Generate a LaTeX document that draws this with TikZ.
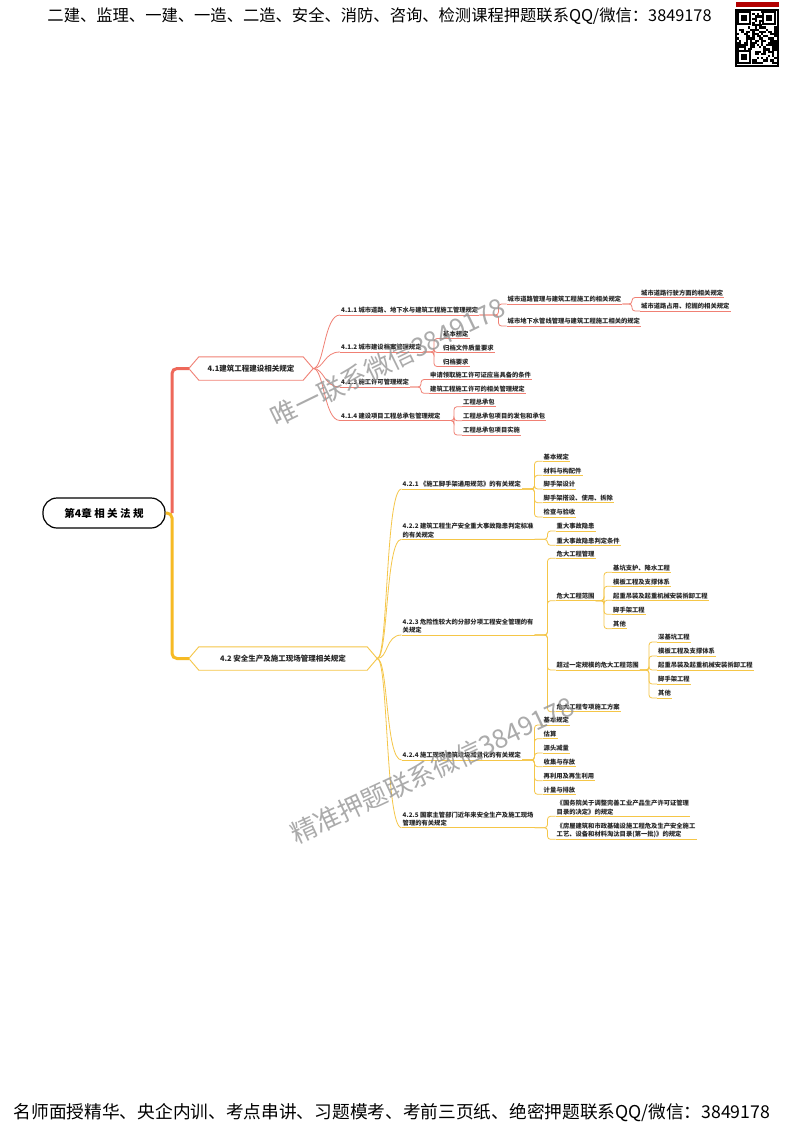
\documentclass[tikz,border=0pt]{standalone}
\usepackage{fontspec}
\newfontfamily\cjk{Noto Sans CJK SC}
\usetikzlibrary{calc}
\definecolor{trR}{RGB}{238,104,90}
\definecolor{trY}{RGB}{246,186,36}
\definecolor{lnR}{RGB}{240,128,116}
\definecolor{lnY}{RGB}{245,198,72}
\definecolor{wmk}{RGB}{150,150,150}
\newcommand\mmul[2]{\draw[#1] (#2.south west) -- (#2.south east);}
\newcommand\mmbrk[3]{\draw[#1,rounded corners=3pt] (#2.south east) -| ([xshift=-8pt]#3.south west) -- (#3.south west);}
\newcommand\mmfan[3]{\draw[#1] (#2.east) .. controls ($(#2.east)+(11,0)$) and ($(#3.south west)+(-16,0)$) .. (#3.south west);}
\newcommand\mmhex[2]{\draw[#1, line width=0.9pt] (#2.west) -- ([xshift=10pt]#2.north west) -- ([xshift=-10pt]#2.north east) -- (#2.east) -- ([xshift=-10pt]#2.south east) -- ([xshift=10pt]#2.south west) -- cycle;}
\begin{document}
\begin{tikzpicture}[x=1pt,y=-1pt,
  tx/.style={anchor=south west, inner xsep=1pt, inner ysep=1.3pt, align=left, text=black!85, font=\cjk\bfseries\fontsize{6.3}{8.5}\selectfont},
  lR/.style={draw=lnR, line width=0.8pt},
  lY/.style={draw=lnY, line width=0.8pt},
  hexn/.style={inner sep=0pt, minimum height=23pt, text=black!85, font=\cjk\bfseries\fontsize{7.5}{9}\selectfont},
]
\useasboundingbox (0,0) rectangle (800,1130);
\fill[white] (0,0) rectangle (800,1130);

% header / footer
\node[font=\cjk\fontsize{16.3}{18}\selectfont, text=black] (hdr) at (379.5,16) {二建、监理、一建、一造、二造、安全、消防、咨询、检测课程押题联系QQ/微信：3849178};
\node[font=\cjk\fontsize{17.7}{20}\selectfont, text=black] (ftr) at (392,1113) {名师面授精华、央企内训、考点串讲、习题模考、考前三页纸、绝密押题联系QQ/微信：3849178};

% QR code
\begin{scope}
\pgfmathsetseed{7}
\fill[red!70!black] (736,2) rectangle (779,7);
\fill[black] (735,9) rectangle (779,67);
\fill[white] (737,11) rectangle (777,65);
\foreach \i in {0,...,17}{\foreach \j in {0,...,23}{
  \pgfmathtruncatemacro\q{rnd<0.5}
  \ifnum\q=1 \fill[black] (737+2.2*\i,11+2.2*\j) rectangle ++(2.2,2.2);\fi}}
\foreach \ox/\oy in {737/11, 761.6/11, 737/49.6}{
  \fill[white] (\ox,\oy) rectangle ++(15.4,15.4);
  \fill[black] (\ox,\oy) rectangle ++(14,14);
  \fill[white] (\ox+2,\oy+2) rectangle ++(10,10);
  \fill[black] (\ox+4,\oy+4) rectangle ++(6,6);}
\end{scope}

% root and main branches
\node[draw=black, line width=1.2pt, rounded corners=14pt, minimum width=122pt, minimum height=30pt, font=\cjk\bfseries\fontsize{10.5}{12}\selectfont] (root) at (104,513) {第4章 相 关 法 规};
\node[hexn, minimum width=124pt] (hexA) at (251,368.5) {4.1建筑工程建设相关规定};
\node[hexn, minimum width=188pt] (hexB) at (283,658.5) {4.2 安全生产及施工现场管理相关规定};
\mmhex{lnR}{hexA}
\mmhex{lnY}{hexB}
\draw[trR, line width=3pt, rounded corners=5pt] (172,513) -- (172,368.5) -- (hexA.west);
\draw[trY, line width=3pt, rounded corners=5pt] (root.east) -- (172,513) -- (172,658.5) -- (hexB.west);

% ---------- 4.1 ----------
\node[tx] (n411) at (340,315) {4.1.1 城市道路、地下水与建筑工程施工管理规定};
\node[tx] (n412) at (340,352) {4.1.2 城市建设档案管理规定};
\node[tx] (n413) at (340,387) {4.1.3 施工许可管理规定};
\node[tx] (n414) at (340,420.5) {4.1.4 建设项目工程总承包管理规定};

\node[tx] (a1) at (506.5,304) {城市道路管理与建筑工程施工的相关规定};
\node[tx] (a2) at (506.5,326) {城市地下水管线管理与建筑工程施工相关的规定};
\node[tx] (a11) at (640,297.5) {城市道路行驶方面的相关规定};
\node[tx] (a12) at (640,311) {城市道路占用、挖掘的相关规定};

\node[tx] (b1) at (442,338.5) {基本规定};
\node[tx] (b2) at (442,352.5) {归档文件质量要求};
\node[tx] (b3) at (442,366.5) {归档要求};

\node[tx] (c1) at (429,379.5) {申请领取施工许可证应当具备的条件};
\node[tx] (c2) at (429,393.3) {建筑工程施工许可的相关管理规定};

\node[tx] (d1) at (462,406.7) {工程总承包};
\node[tx] (d2) at (462,420.7) {工程总承包项目的发包和承包};
\node[tx] (d3) at (462,435) {工程总承包项目实施};

\foreach \n in {n411,n412,n413,n414,a1,a2,a11,a12,b1,b2,b3,c1,c2,d1,d2,d3} {\mmul{lR}{\n}}
\foreach \n in {n411,n412,n413,n414} {\mmfan{lR}{hexA}{\n}}
\foreach \n in {a1,a2} {\mmbrk{lR}{n411}{\n}}
\foreach \n in {a11,a12} {\mmbrk{lR}{a1}{\n}}
\foreach \n in {b1,b2,b3} {\mmbrk{lR}{n412}{\n}}
\foreach \n in {c1,c2} {\mmbrk{lR}{n413}{\n}}
\foreach \n in {d1,d2,d3} {\mmbrk{lR}{n414}{\n}}

% ---------- 4.2 ----------
\node[tx] (m421) at (401.5,489) {4.2.1 《施工脚手架通用规范》的有关规定};
\node[tx] (m422) at (401.5,539.3) {4.2.2 建筑工程生产安全重大事故隐患判定标准\\的有关规定};
\node[tx] (m423) at (401.5,635) {4.2.3 危险性较大的分部分项工程安全管理的有\\关规定};
\node[tx] (m424) at (401.5,760) {4.2.4 施工现场建筑垃圾减量化的有关规定};
\node[tx] (m425) at (401.5,827.7) {4.2.5 国家主管部门近年来安全生产及施工现场\\管理的有关规定};

\node[tx] (e1) at (542.5,461.3) {基本规定};
\node[tx] (e2) at (542.5,475.3) {材料与构配件};
\node[tx] (e3) at (542.5,489) {脚手架设计};
\node[tx] (e4) at (542.5,502.7) {脚手架搭设、使用、拆除};
\node[tx] (e5) at (542.5,517) {检查与验收};

\node[tx] (f1) at (555.5,531) {重大事故隐患};
\node[tx] (f2) at (555.5,545.3) {重大事故隐患判定条件};

\node[tx] (g1) at (555.5,558.3) {危大工程管理};
\node[tx] (g2) at (555.5,600.7) {危大工程范围};
\node[tx] (g3) at (555.5,670) {超过一定规模的危大工程范围};
\node[tx] (g4) at (555.5,711.7) {危大工程专项施工方案};

\node[tx] (g21) at (612,572.3) {基坑支护、降水工程};
\node[tx] (g22) at (612,586.3) {模板工程及支撑体系};
\node[tx] (g23) at (612,600.3) {起重吊装及起重机械安装拆卸工程};
\node[tx] (g24) at (612,614.3) {脚手架工程};
\node[tx] (g25) at (612,628.7) {其他};

\node[tx] (g31) at (657,642) {深基坑工程};
\node[tx] (g32) at (657,656) {模板工程及支撑体系};
\node[tx] (g33) at (657,670) {起重吊装及起重机械安装拆卸工程};
\node[tx] (g34) at (657,684) {脚手架工程};
\node[tx] (g35) at (657,698) {其他};

\node[tx] (h1) at (542.5,725) {基本规定};
\node[tx] (h2) at (542.5,738.7) {估算};
\node[tx] (h3) at (542.5,753) {源头减量};
\node[tx] (h4) at (542.5,766.7) {收集与存放};
\node[tx] (h5) at (542.5,780.7) {再利用及再生利用};
\node[tx] (h6) at (542.5,794.3) {计量与排放};

\node[tx, font=\cjk\bfseries\fontsize{6.3}{8.3}\selectfont] (k1) at (555.5,816.3) {《国务院关于调整完善工业产品生产许可证管理\\目录的决定》的规定};
\node[tx, font=\cjk\bfseries\fontsize{6.3}{8.3}\selectfont] (k2) at (555.5,839.3) {《房屋建筑和市政基础设施工程危及生产安全施工\\工艺、设备和材料淘汰目录(第一批)》的规定};

\foreach \n in {m421,m422,m423,m424,m425,e1,e2,e3,e4,e5,f1,f2,g1,g2,g3,g4,g21,g22,g23,g24,g25,g31,g32,g33,g34,g35,h1,h2,h3,h4,h5,h6,k1,k2} {\mmul{lY}{\n}}
\foreach \n in {m421,m422,m423,m424,m425} {\mmfan{lY}{hexB}{\n}}
\foreach \n in {e1,e2,e3,e4,e5} {\mmbrk{lY}{m421}{\n}}
\foreach \n in {f1,f2} {\mmbrk{lY}{m422}{\n}}
\foreach \n in {g1,g2,g3,g4} {\mmbrk{lY}{m423}{\n}}
\foreach \n in {g21,g22,g23,g24,g25} {\mmbrk{lY}{g2}{\n}}
\foreach \n in {g31,g32,g33,g34,g35} {\mmbrk{lY}{g3}{\n}}
\foreach \n in {h1,h2,h3,h4,h5,h6} {\mmbrk{lY}{m424}{\n}}
\foreach \n in {k1,k2} {\mmbrk{lY}{m425}{\n}}

% watermarks
\node[rotate=26, text=wmk, opacity=0.8, font=\cjk\fontsize{26}{26}\selectfont] (wm1) at (388,362) {唯一联系微信3849178};
\node[rotate=25, text=wmk, opacity=0.8, font=\cjk\fontsize{26}{26}\selectfont] (wm2) at (432,770) {精准押题联系微信3849178};
\end{tikzpicture}
\end{document}
